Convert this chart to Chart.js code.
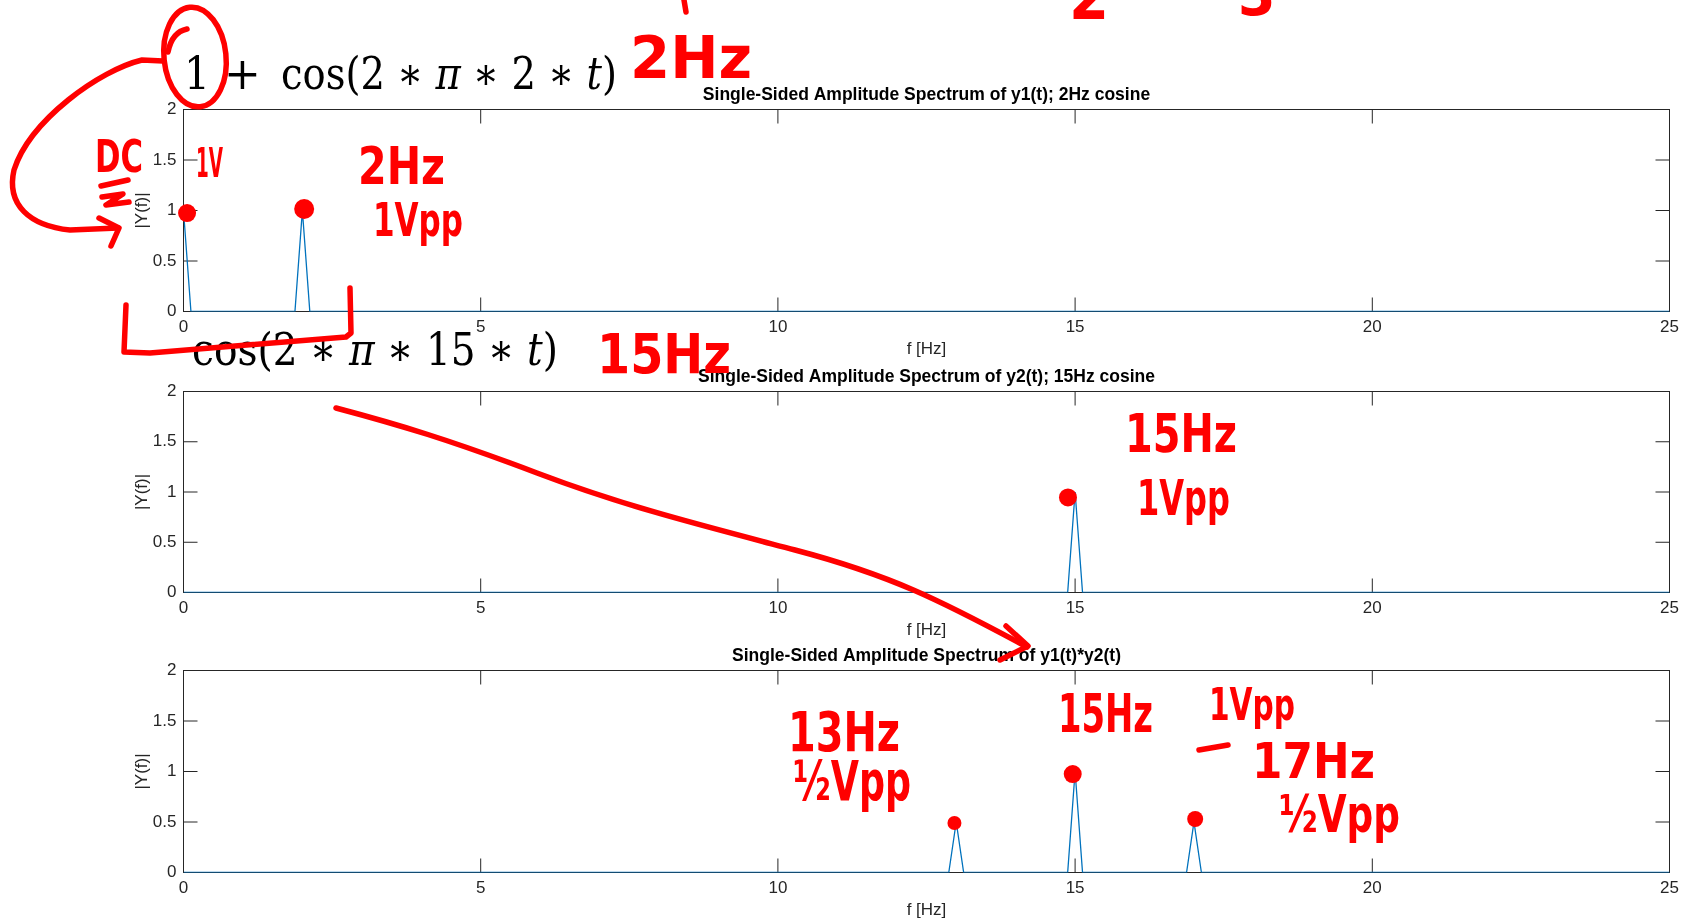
<!DOCTYPE html>
<html><head><meta charset="utf-8">
<script src="https://cdn.jsdelivr.net/npm/chart.js@4.4.1/dist/chart.umd.min.js"></script>
<style>
html,body{margin:0;padding:0;background:#fff;width:1685px;height:921px;overflow:hidden;}
canvas{position:absolute;left:0;top:0;}
svg{position:absolute;left:0;top:0;pointer-events:none;}
.eq{font-family:'DejaVu Serif','Liberation Serif',serif;font-size:44px;fill:#000;}
.hw{font-family:'DejaVu Sans Condensed','DejaVu Sans',sans-serif;font-weight:700;fill:#ff0000;}
.ink{fill:none;stroke:#ff0000;stroke-width:5.5;stroke-linecap:round;stroke-linejoin:round;}
</style></head><body>
<canvas id="c1" width="1685" height="1000"></canvas>
<canvas id="c2" width="1685" height="1000"></canvas>
<canvas id="c3" width="1685" height="1000"></canvas>
<svg width="1685" height="921" xmlns="http://www.w3.org/2000/svg">
  <!-- equations -->
  <text class="eq" x="184" y="89" textLength="26" lengthAdjust="spacingAndGlyphs">1</text>
  <text class="eq" x="224" y="89">+</text>
  <text class="eq" x="281" y="89" textLength="336" lengthAdjust="spacingAndGlyphs">cos(2 ∗ <tspan font-style="italic">π</tspan> ∗ 2 ∗ <tspan font-style="italic">t</tspan>)</text>
  <text class="eq" x="192" y="365" textLength="366" lengthAdjust="spacingAndGlyphs">cos(2 ∗ <tspan font-style="italic">π</tspan> ∗ 15 ∗ <tspan font-style="italic">t</tspan>)</text>

  <!-- handwritten annotations -->
  <ellipse class="ink" cx="195" cy="57" rx="31" ry="50" transform="rotate(-6 195 57)"/>
  <path class="ink" d="M187 29 Q172 32 168 52"/>
  <path class="ink" d="M163 61 L142 60 C100 70 30 120 14 170 C6 205 30 226 70 230 L118 228"/>
  <path class="ink" d="M99 218 L119 228 L111 246"/>
  <path class="ink" d="M101 186 L128 180 M102 197 L123 194 L106 205 L129 202"/>
  <path class="ink" d="M126 305 L124 352 L150 353 L346 337 L351 333 L350 288"/>
  <path class="ink" d="M336 408 C400 425 450 440 537 473 S700 525 795 550 S940 600 1027 647"/>
  <path class="ink" d="M1006 626 L1028 646 L1000 660"/>
  <path class="ink" d="M1199 750 L1228 745"/>
  <path class="ink" d="M684 0 L686 12"/>

  <text class="hw" x="630" y="78" font-size="58" textLength="122" lengthAdjust="spacingAndGlyphs">2Hz</text>
  <text class="hw" x="1069" y="19" font-size="64">2</text>
  <text class="hw" x="1238" y="15" font-size="60">3</text>
  <text class="hw" x="95" y="172" font-size="44" textLength="48" lengthAdjust="spacingAndGlyphs">DC</text>
  <text class="hw" x="196" y="177" font-size="40" textLength="27" lengthAdjust="spacingAndGlyphs">1V</text>
  <text class="hw" x="358" y="184" font-size="52" textLength="87" lengthAdjust="spacingAndGlyphs">2Hz</text>
  <text class="hw" x="373" y="236" font-size="46" textLength="90" lengthAdjust="spacingAndGlyphs">1Vpp</text>
  <text class="hw" x="597" y="373" font-size="56" textLength="134" lengthAdjust="spacingAndGlyphs">15Hz</text>
  <text class="hw" x="1125" y="452" font-size="54" textLength="112" lengthAdjust="spacingAndGlyphs">15Hz</text>
  <text class="hw" x="1137" y="515" font-size="50" textLength="93" lengthAdjust="spacingAndGlyphs">1Vpp</text>
  <text class="hw" x="788" y="751" font-size="56" textLength="112" lengthAdjust="spacingAndGlyphs">13Hz</text>
  <text class="hw" x="793" y="800" font-size="56" textLength="118" lengthAdjust="spacingAndGlyphs">½Vpp</text>
  <text class="hw" x="1058" y="732" font-size="54" textLength="95" lengthAdjust="spacingAndGlyphs">15Hz</text>
  <text class="hw" x="1209" y="720" font-size="44" textLength="86" lengthAdjust="spacingAndGlyphs">1Vpp</text>
  <text class="hw" x="1252" y="778" font-size="50" textLength="123" lengthAdjust="spacingAndGlyphs">17Hz</text>
  <text class="hw" x="1279" y="832" font-size="52" textLength="121" lengthAdjust="spacingAndGlyphs">½Vpp</text>
</svg>
<script>
// ---- data ----
const freq1 = [0, 0.125, 1.875, 2, 2.125, 25];
const amp1  = [1, 0, 0, 1, 0, 0];
const freq2 = [0, 14.875, 15, 15.125, 25];
const amp2  = [0, 0, 1, 0, 0];
const freq3 = [0, 12.875, 13, 13.125, 14.875, 15, 15.125, 16.875, 17, 17.125, 25];
const amp3  = [0, 0, 0.5, 0, 0, 1, 0, 0, 0.5, 0, 0];
// red hand-drawn dots on the peaks
const markX1 = [0.06, 2.03];
const markY1 = [0.975, 1.015];
const markR1 = [9, 10];
const markX2 = [14.88];
const markY2 = [0.946];
const markR2 = [9];
const markX3 = [12.97, 14.96, 17.02];
const markY3 = [0.49, 0.975, 0.53];
const markR3 = [7, 9, 8];
// axes
const xTicks = [0, 5, 10, 15, 20, 25];
const xTickLabels = ['0', '5', '10', '15', '20', '25'];
const yTicks = [0, 0.5, 1, 1.5, 2];
const yTickLabels = ['0', '0.5', '1', '1.5', '2'];
const titles = [
  'Single-Sided Amplitude Spectrum of y1(t); 2Hz cosine',
  'Single-Sided Amplitude Spectrum of y2(t); 15Hz cosine',
  'Single-Sided Amplitude Spectrum of y1(t)*y2(t)'
];
const xLabel = 'f [Hz]';
const yLabel = '|Y(f)|';

const FONT = "'Liberation Sans', Arial, Helvetica, sans-serif";
const AXC = '#262626';

const matlabAxes = {
  id: 'matlabAxes',
  beforeDatasetsDraw(chart) {
    const {ctx, chartArea: a, scales: {x, y}} = chart;
    ctx.save();
    ctx.strokeStyle = AXC;
    ctx.lineWidth = 1;
    ctx.strokeRect(a.left, a.top, a.right - a.left, a.bottom - a.top);
    ctx.beginPath();
    xTicks.forEach(v => {
      const px = x.getPixelForValue(v);
      ctx.moveTo(px, a.bottom); ctx.lineTo(px, a.bottom - 14);
      ctx.moveTo(px, a.top); ctx.lineTo(px, a.top + 14);
    });
    yTicks.forEach(v => {
      const py = y.getPixelForValue(v);
      ctx.moveTo(a.left, py); ctx.lineTo(a.left + 14, py);
      ctx.moveTo(a.right, py); ctx.lineTo(a.right - 14, py);
    });
    ctx.stroke();
    ctx.restore();
  }
};

function zip(xs, ys) { return xs.map((v, i) => ({x: v, y: ys[i]})); }

function makeChart(id, freq, amp, mx, my, mr, title, top, bottom) {
  new Chart(document.getElementById(id), {
    type: 'line',
    data: {
      datasets: [
        {
          data: zip(mx, my), showLine: false, order: 0, clip: false,
          pointRadius: mr, pointHoverRadius: mr,
          pointBackgroundColor: '#ff0000', pointBorderColor: '#ff0000', pointBorderWidth: 0
        },
        {
          data: zip(freq, amp), order: 1, borderColor: '#0072BD', borderWidth: 1.3,
          pointRadius: 0, tension: 0, fill: false
        }
      ]
    },
    options: {
      responsive: false, animation: false, events: [],
      layout: {padding: {left: 0, right: 15.5, top: top - 24.8, bottom: 1000 - bottom - 48}},
      plugins: {
        legend: {display: false}, tooltip: {enabled: false},
        title: {
          display: true, text: title, fullSize: false, color: '#000',
          font: {family: FONT, size: 17.5, weight: 'bold'}, padding: {top: 0, bottom: 3.8}
        }
      },
      scales: {
        x: {
          type: 'linear', min: 0, max: 25, position: 'bottom',
          afterBuildTicks: s => { s.ticks = xTicks.map(v => ({value: v})); },
          afterFit: s => { s.height = 48; },
          grid: {display: false, drawTicks: false}, border: {display: false},
          ticks: {padding: 5.8, color: AXC, font: {family: FONT, size: 17}, maxRotation: 0, autoSkip: false,
                  callback: (v, i) => xTickLabels[i]},
          title: {display: true, text: xLabel, color: AXC, font: {family: FONT, size: 17}, padding: {top: 0, bottom: 0}}
        },
        y: {
          type: 'linear', min: 0, max: 2, position: 'left',
          afterBuildTicks: s => { s.ticks = yTicks.map(v => ({value: v})); },
          afterFit: s => { s.width = 183.5; },
          grid: {display: false, drawTicks: false}, border: {display: false},
          ticks: {padding: 7, color: AXC, font: {family: FONT, size: 17}, autoSkip: false,
                  callback: (v, i) => yTickLabels[i]},
          title: {display: true, text: yLabel, color: AXC, font: {family: FONT, size: 17}, padding: {top: 132.5, bottom: 0}}
        }
      }
    },
    plugins: [matlabAxes]
  });
}

makeChart('c1', freq1, amp1, markX1, markY1, markR1, titles[0], 109.5, 311.5);
makeChart('c2', freq2, amp2, markX2, markY2, markR2, titles[1], 391.5, 592.5);
makeChart('c3', freq3, amp3, markX3, markY3, markR3, titles[2], 670.5, 872.5);
</script>
</body></html>
